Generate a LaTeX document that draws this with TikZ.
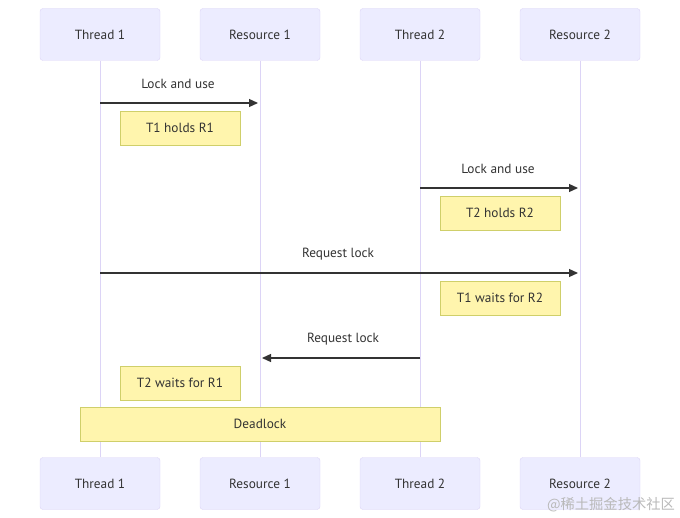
\documentclass[tikz,border=0pt]{standalone}
\usepackage{fontspec}
\setmainfont{PT Sans}
\newfontfamily\cjkfont{Noto Sans CJK SC}
\usetikzlibrary{arrows.meta}
\definecolor{actorFill}{HTML}{ECECFF}
\definecolor{actorLine}{HTML}{DCD4F6}
\definecolor{noteFill}{HTML}{FFF5AD}
\definecolor{noteLine}{HTML}{CFCF6A}
\definecolor{inkGray}{HTML}{333333}

\begin{document}
\begin{tikzpicture}[x=1pt,y=-1pt,
    actor/.style={draw=actorLine,fill=actorFill,rounded corners=3pt,minimum width=120pt,minimum height=52pt,text=inkGray,font=\fontsize{13.3}{15}\selectfont},
    note/.style={draw=noteLine,fill=noteFill,minimum height=34pt,text=inkGray,font=\fontsize{13.3}{15}\selectfont},
    life/.style={draw=actorLine,line width=1pt},
    msg/.style={draw=inkGray,line width=1.2pt,shorten >=2pt,-{Triangle[length=9pt,width=8pt]}},
    lbl/.style={text=inkGray,font=\fontsize{13.3}{15}\selectfont}]
    \useasboundingbox (0,0) rectangle (680,518);
    \foreach \x/\name/\txt in {100/t1/Thread 1,260/r1/Resource 1,420/t2/Thread 2,580/r2/Resource 2}{
        \node[actor] (\name-top) at (\x,34.5) {\txt};
        \node[actor] (\name-bot) at (\x,483.5) {\txt};
        \draw[life] (\name-top) -- (\name-bot);
    }
    \coordinate (m1a) at (100,103); \coordinate (m1b) at (260,103);
    \coordinate (m2a) at (420,188); \coordinate (m2b) at (580,188);
    \coordinate (m3a) at (100,273); \coordinate (m3b) at (580,273);
    \coordinate (m4a) at (420,358); \coordinate (m4b) at (260,358);
    \draw[msg] (m1a) -- (m1b);
    \draw[msg] (m2a) -- (m2b);
    \draw[msg] (m3a) -- (m3b);
    \draw[msg] (m4a) -- (m4b);
    \node[lbl] (m1) at (178,84) {Lock and use};
    \node[lbl] (m2) at (498,169) {Lock and use};
    \node[lbl] (m3) at (338,254) {Request lock};
    \node[lbl] (m4) at (343,339) {Request lock};
    \node[note,minimum width=120pt] (n1) at (180,128) {T1 holds R1};
    \node[note,minimum width=120pt] (n2) at (500,213) {T2 holds R2};
    \node[note,minimum width=120pt] (n3) at (500,298) {T1 waits for R2};
    \node[note,minimum width=120pt] (n4) at (180,383) {T2 waits for R1};
    \node[note,minimum width=360pt] (n5) at (260,424) {Deadlock};
    \node[text=gray!55,font=\cjkfont\fontsize{14.3}{16}\selectfont] (mark) at (611,505) {@稀土掘金技术社区};
\end{tikzpicture}
\end{document}
